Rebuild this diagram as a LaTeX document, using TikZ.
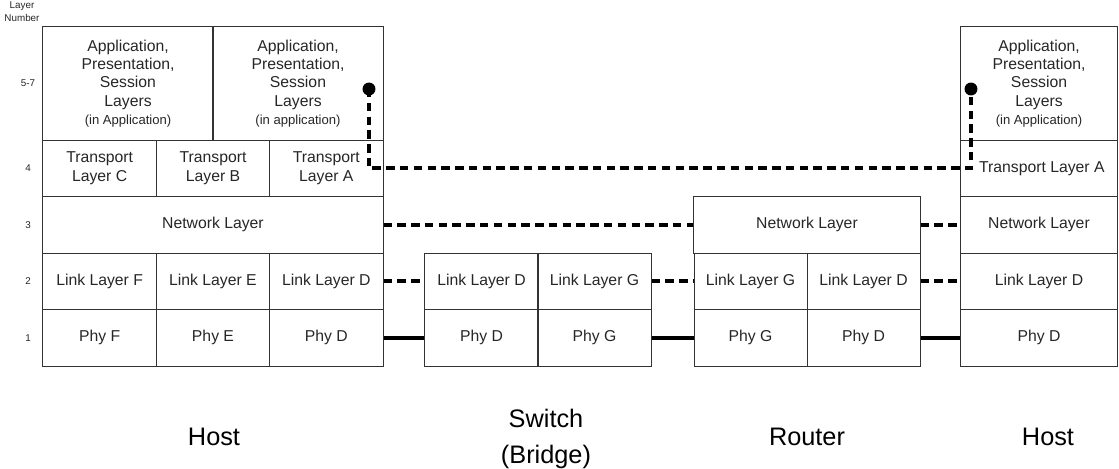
\documentclass[tikz,border=0pt]{standalone}
\usepackage{fontspec}
\setmainfont{Liberation Sans}
\newcommand\subnote[1]{{\fontsize{9.3}{11}\selectfont #1}}
\begin{document}
\begin{tikzpicture}[
  x=0.025cm, y=-0.025cm,
  every node/.style={font=\fontsize{11.2}{13}\selectfont, align=center, inner sep=0pt, text=black!85},
  cell/.style={draw=black!80, line width=0.7pt, minimum width=2.8333cm, minimum height=1.4125cm},
  appcell/.style={cell, minimum height=2.825cm},
  rownum/.style={font=\fontsize{7}{9.2}\selectfont},
  device/.style={font=\fontsize{18}{25}\selectfont, text=black},
  peer/.style={line width=2.5pt, dash pattern=on 6pt off 3.8pt},
  wire/.style={line width=2.8pt},
  dot/.style={circle, fill=black, minimum size=9.2pt}]
\useasboundingbox (0,0) rectangle (1119,468);
% layer numbers
\node[rownum] (lnum) at (22,11.5) {Layer\\Number};
\node[rownum] (n57) at (28,83.5) {5-7};
\node[rownum] (n4) at (28,168.25) {4};
\node[rownum] (n3) at (28,224.75) {3};
\node[rownum] (n2) at (28,281.25) {2};
\node[rownum] (n1) at (28,337.75) {1};
% host (left)
\node[appcell, minimum width=4.25cm] (hAppL) at (128,83.5) {Application,\\Presentation,\\Session\\Layers\\\subnote{(in Application)}};
\node[appcell, minimum width=4.25cm] (hAppR) at (298,83.5) {Application,\\Presentation,\\Session\\Layers\\\subnote{(in application)}};
\node[cell] (hTpC) at (99.67,168.25) {Transport\\Layer C};
\node[cell] (hTpB) at (213,168.25) {Transport\\Layer B};
\node[cell] (hTpA) at (326.33,168.25) {Transport\\Layer A};
\node[cell, minimum width=8.5cm] (hNet) at (213,224.75) {Network Layer};
\node[cell] (hLkF) at (99.67,281.25) {Link Layer F};
\node[cell] (hLkE) at (213,281.25) {Link Layer E};
\node[cell] (hLkD) at (326.33,281.25) {Link Layer D};
\node[cell] (hPhF) at (99.67,337.75) {Phy F};
\node[cell] (hPhE) at (213,337.75) {Phy E};
\node[cell] (hPhD) at (326.33,337.75) {Phy D};
% switch
\node[cell, minimum width=2.825cm] (sLkD) at (481.5,281.25) {Link Layer D};
\node[cell, minimum width=2.825cm] (sLkG) at (594.5,281.25) {Link Layer G};
\node[cell, minimum width=2.825cm] (sPhD) at (481.5,337.75) {Phy D};
\node[cell, minimum width=2.825cm] (sPhG) at (594.5,337.75) {Phy G};
% router
\node[cell, minimum width=5.65cm] (rNet) at (807,224.75) {Network Layer};
\node[cell, minimum width=2.825cm] (rLkG) at (750.5,281.25) {Link Layer G};
\node[cell, minimum width=2.825cm] (rLkD) at (863.5,281.25) {Link Layer D};
\node[cell, minimum width=2.825cm] (rPhG) at (750.5,337.75) {Phy G};
\node[cell, minimum width=2.825cm] (rPhD) at (863.5,337.75) {Phy D};
% host (right)
\node[appcell, minimum width=3.9cm] (tApp) at (1039,83.5) {Application,\\Presentation,\\Session\\Layers\\\subnote{(in Application)}};
\node[cell, minimum width=3.9cm] (tTpA) at (1039,168.25) {\hspace{4pt}Transport Layer A};
\node[cell, minimum width=3.9cm] (tNet) at (1039,224.75) {Network Layer};
\node[cell, minimum width=3.9cm] (tLkD) at (1039,281.25) {Link Layer D};
\node[cell, minimum width=3.9cm] (tPhD) at (1039,337.75) {Phy D};
% peer connections
\node[dot] (dotL) at (369,89) {};
\node[dot] (dotR) at (971,89) {};
\draw[peer] (dotL.center) -- (dotL.center |- hTpA.center) -- (dotR.center |- tTpA.center) -- (dotR.center);
\draw[peer] (hNet.east) -- (rNet.west);
\draw[peer] (rNet.east) -- (tNet.west);
\draw[peer] (hLkD.east) -- (sLkD.west);
\draw[peer] (sLkG.east) -- (rLkG.west);
\draw[peer] (rLkD.east) -- (tLkD.west);
% physical links
\draw[wire] (hPhD.east) -- (sPhD.west);
\draw[wire] (sPhG.east) -- (rPhG.west);
\draw[wire] (rPhD.east) -- (tPhD.west);
% devices
\node[device] (devH1) at (214,437) {Host};
\node[device] (devS) at (546,439) {Switch\\(Bridge)};
\node[device] (devR) at (807,437) {Router};
\node[device] (devH2) at (1048,437) {Host};
\end{tikzpicture}
\end{document}
